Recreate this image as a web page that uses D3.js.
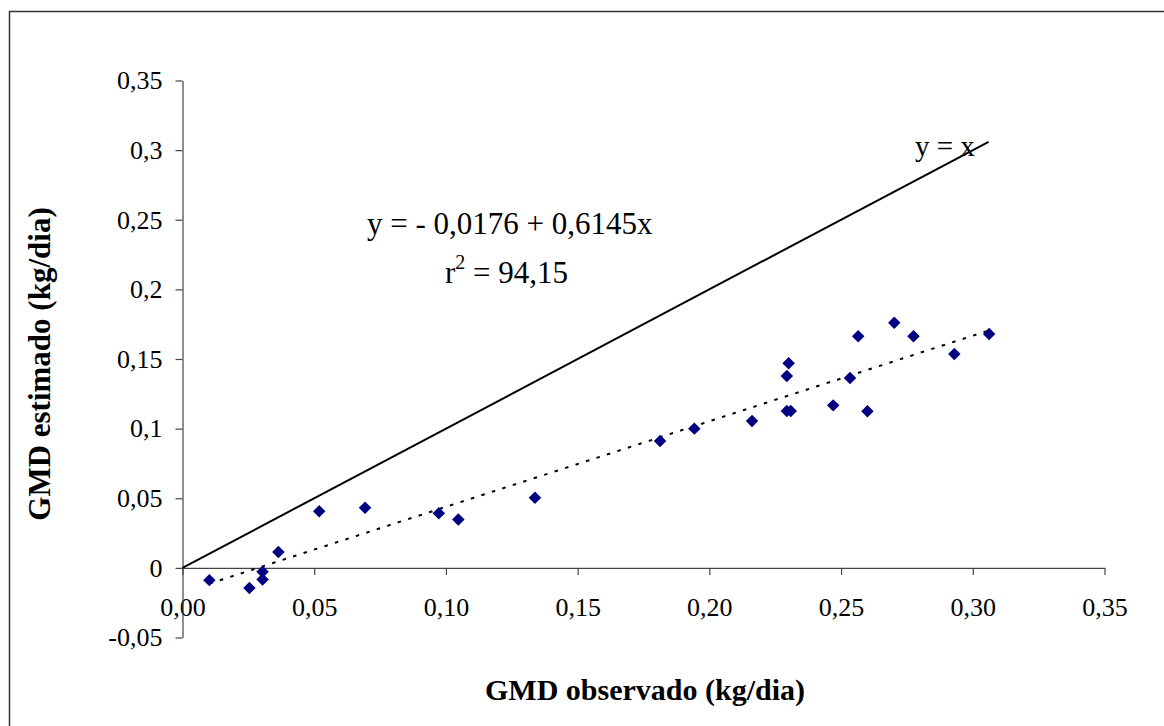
<!DOCTYPE html>
<html>
<head>
<meta charset="utf-8">
<script src="https://cdn.jsdelivr.net/npm/d3@7"></script>
<style>
  body { margin: 0; background: #fff; }
  svg text { font-family: "Liberation Serif", "Times New Roman", serif; fill: #000; }
</style>
</head>
<body>
<div id="chart"></div>
<script>
// observed vs estimated daily gain (kg/dia)
const obsX = [0.0102, 0.0254, 0.0304, 0.0304, 0.0364, 0.0519, 0.0693, 0.0973, 0.1047, 0.1338,
              0.1813, 0.1943, 0.2162, 0.2301, 0.2294, 0.2294, 0.2309, 0.2470, 0.2534, 0.2565,
              0.2600, 0.2702, 0.2775, 0.2930, 0.3062];
const estY = [-0.0088, -0.0145, -0.0027, -0.0083, 0.0114, 0.0406, 0.0432, 0.0392, 0.0348, 0.0504,
              0.0911, 0.1000, 0.1055, 0.1469, 0.1378, 0.1126, 0.1126, 0.1167, 0.1364, 0.1663,
              0.1124, 0.1761, 0.1663, 0.1536, 0.1680];
const xTicks = [0, 0.05, 0.10, 0.15, 0.20, 0.25, 0.30, 0.35];
const yTicks = [-0.05, 0, 0.05, 0.1, 0.15, 0.2, 0.25, 0.3, 0.35];
const xTickLabels = ["0,00", "0,05", "0,10", "0,15", "0,20", "0,25", "0,30", "0,35"];
const yTickLabels = ["-0,05", "0", "0,05", "0,1", "0,15", "0,2", "0,25", "0,3", "0,35"];
const identityEnd = 0.306;
const intercept = -0.0176, slope = 0.6145;

const width = 1164, height = 726;
const serif = '"Liberation Serif", "Times New Roman", serif';

const svg = d3.select("#chart").append("svg")
    .attr("width", width)
    .attr("height", height);

// outer frame
svg.append("rect")
   .attr("x", 9.5).attr("y", 11.5)
   .attr("width", 1170).attr("height", 740)
   .attr("fill", "none")
   .attr("stroke", "#333")
   .attr("stroke-width", 1.5);

const xScale = d3.scaleLinear().domain([0, 0.35]).range([182.5, 1104.5]);
const yScale = d3.scaleLinear().domain([-0.05, 0.35]).range([637.5, 80.5]);

const xAxis = d3.axisBottom(xScale)
    .tickValues(xTicks)
    .tickFormat((d, i) => xTickLabels[i])
    .tickSize(7).tickSizeOuter(0).tickPadding(23);
const yAxis = d3.axisLeft(yScale)
    .tickValues(yTicks)
    .tickFormat((d, i) => yTickLabels[i])
    .tickSize(7).tickSizeOuter(0).tickPadding(13);

const gx = svg.append("g")
   .attr("transform", "translate(0," + yScale(0) + ")")
   .call(xAxis);
const gy = svg.append("g")
   .attr("transform", "translate(" + xScale(0) + ",0)")
   .call(yAxis);

[gx, gy].forEach(g => {
    g.attr("font-family", serif).attr("font-size", 26);
    g.selectAll("path, line").attr("stroke", "#444").attr("stroke-width", 1.2);
    g.selectAll("text").attr("fill", "#000");
});

// y = x reference line
svg.append("line")
   .attr("x1", xScale(0)).attr("y1", yScale(0))
   .attr("x2", xScale(identityEnd)).attr("y2", yScale(identityEnd))
   .attr("stroke", "#000").attr("stroke-width", 2);

// fitted regression (dotted)
const xMin = d3.min(obsX), xMax = d3.max(obsX);
svg.append("line")
   .attr("x1", xScale(xMin)).attr("y1", yScale(intercept + slope * xMin))
   .attr("x2", xScale(xMax)).attr("y2", yScale(intercept + slope * xMax))
   .attr("stroke", "#000").attr("stroke-width", 2)
   .attr("stroke-dasharray", "3.5,7.5");

// data points
const points = obsX.map((x, i) => [x, estY[i]]);
svg.selectAll(".pt")
   .data(points)
   .enter()
   .append("path")
   .attr("class", "pt")
   .attr("d", d3.symbol(d3.symbolSquare, 78))
   .attr("transform", d => "translate(" + xScale(d[0]) + "," + yScale(d[1]) + ") rotate(45)")
   .attr("fill", "#000080");

// annotations
svg.append("text")
   .attr("x", 915).attr("y", 156)
   .style("font-size", "29px")
   .text("y = x");

svg.append("text")
   .attr("x", 367).attr("y", 234)
   .style("font-size", "31px")
   .text("y = - 0,0176 + 0,6145x");

const r2 = svg.append("text")
   .attr("x", 445).attr("y", 283)
   .style("font-size", "31px");
r2.append("tspan").text("r");
r2.append("tspan").attr("dy", -14).style("font-size", "20px").text("2");
r2.append("tspan").attr("dy", 14).text(" = 94,15");

// axis titles
svg.append("text")
   .attr("x", 645).attr("y", 700)
   .attr("text-anchor", "middle")
   .style("font-size", "30px")
   .style("font-weight", "bold")
   .text("GMD observado (kg/dia)");

svg.append("text")
   .attr("transform", "translate(50,364) rotate(-90)")
   .attr("text-anchor", "middle")
   .style("font-size", "31px")
   .style("font-weight", "bold")
   .text("GMD estimado (kg/dia)");
</script>
</body>
</html>
